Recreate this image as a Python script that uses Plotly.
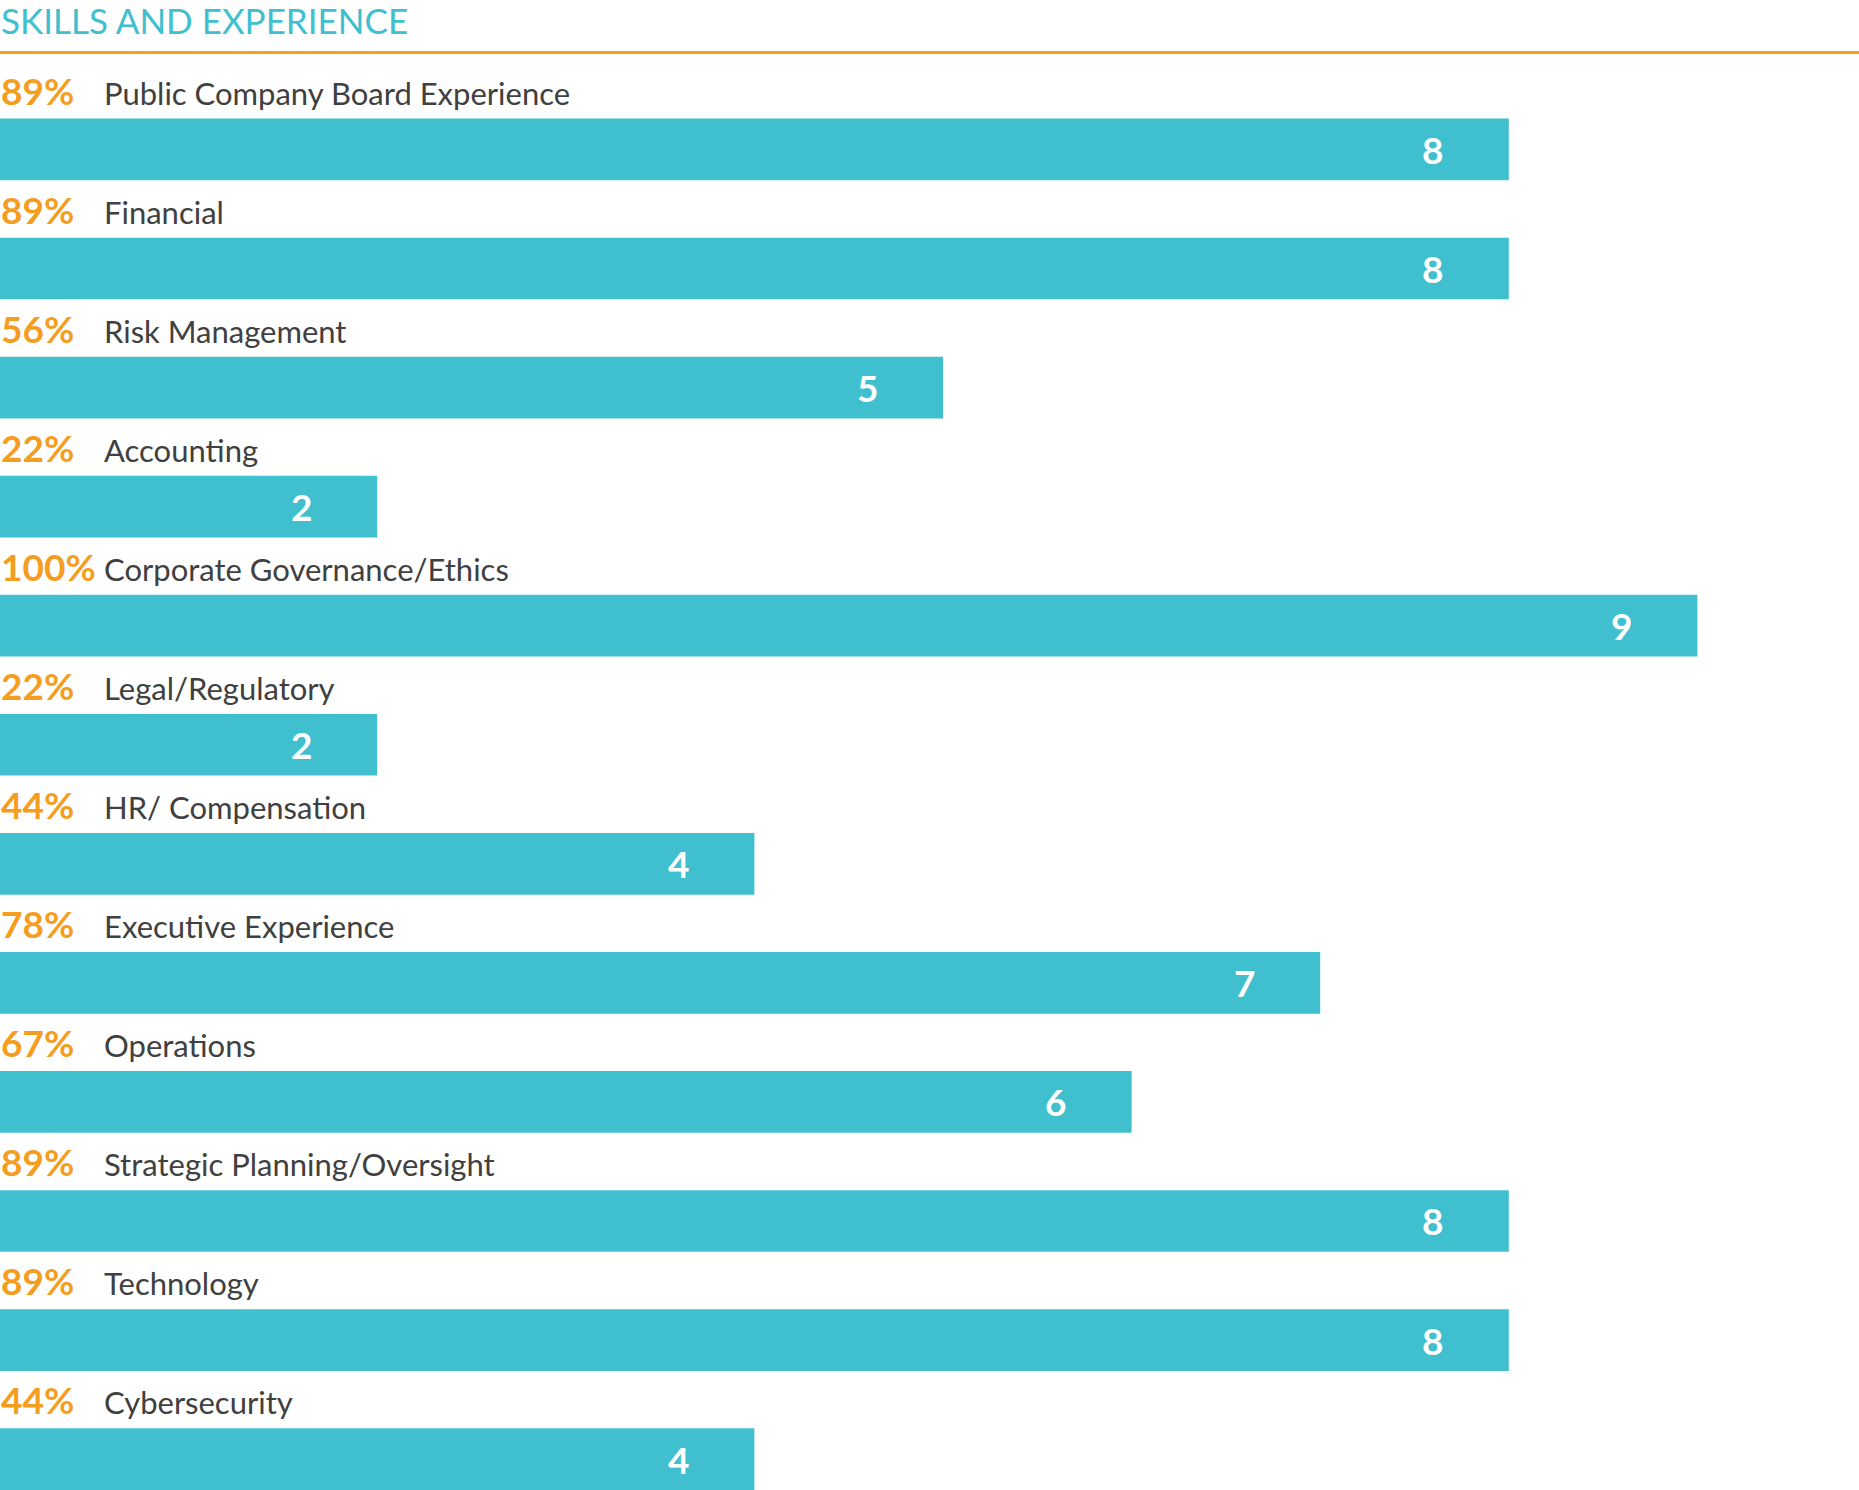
import plotly.graph_objects as go

title_text = "SKILLS AND EXPERIENCE"
categories = [
    "Public Company Board Experience",
    "Financial",
    "Risk Management",
    "Accounting",
    "Corporate Governance/Ethics",
    "Legal/Regulatory",
    "HR/ Compensation",
    "Executive Experience",
    "Operations",
    "Strategic Planning/Oversight",
    "Technology",
    "Cybersecurity",
]
counts = [8, 8, 5, 2, 9, 2, 4, 7, 6, 8, 8, 4]
percents = ["89%", "89%", "56%", "22%", "100%", "22%", "44%", "78%", "67%", "89%", "89%", "44%"]

W, H = 1859, 1490
TEAL = "#40C0CF"
ORANGE = "#F59D1E"
GRAY = "#404040"
FONT = "Lato"

px_per_unit = 188.6
pitch = 119.06
bar_h = 61.7
c0 = 118.6 + bar_h / 2

fig = go.Figure()
fig.add_trace(go.Bar(
    y=categories, x=counts, orientation="h",
    marker=dict(color=TEAL, line=dict(width=0)),
    hoverinfo="skip",
))

ann = []
for cat, cnt, pct in zip(categories, counts, percents):
    ann.append(dict(
        x=0, y=cat, xref="x", yref="y", xanchor="left", yanchor="bottom",
        yshift=bar_h / 2 + 5, showarrow=False, borderpad=0,
        text=f"<b>{pct}</b>", font=dict(family=FONT, size=37, color=ORANGE),
    ))
    ann.append(dict(
        x=0, y=cat, xref="x", yref="y", xanchor="left", yanchor="bottom",
        xshift=103, yshift=bar_h / 2 + 6, showarrow=False, borderpad=0,
        text=cat, font=dict(family=FONT, size=31, color=GRAY),
    ))
    ann.append(dict(
        x=cnt, y=cat, xref="x", yref="y", xanchor="center", yanchor="middle",
        xshift=-76, showarrow=False, borderpad=0,
        text=f"<b>{cnt}</b>", font=dict(family=FONT, size=37, color="white"),
    ))

ann.append(dict(
    x=0, y=1 - 42 / H, xref="paper", yref="paper", xanchor="left", yanchor="bottom",
    showarrow=False, borderpad=0, text=title_text,
    font=dict(family=FONT, size=35, color=TEAL),
))

fig.update_layout(
    width=W, height=H,
    margin=dict(l=0, r=0, t=0, b=0),
    paper_bgcolor="white", plot_bgcolor="white",
    showlegend=False, bargap=1 - bar_h / pitch,
    xaxis=dict(range=[0, W / px_per_unit], visible=False, fixedrange=True),
    yaxis=dict(
        categoryorder="array", categoryarray=categories,
        range=[(H - c0) / pitch, -c0 / pitch],
        visible=False, fixedrange=True,
    ),
    annotations=ann,
    shapes=[dict(
        type="line", xref="paper", yref="paper", x0=0, x1=1,
        y0=1 - 52.5 / H, y1=1 - 52.5 / H,
        line=dict(color="#F7A11A", width=3),
    )],
)

fig.write_html(
    "out.html",
    config={"displayModeBar": False, "staticPlot": True},
    post_script="document.body.style.margin='0';document.body.style.overflow='hidden';",
)
